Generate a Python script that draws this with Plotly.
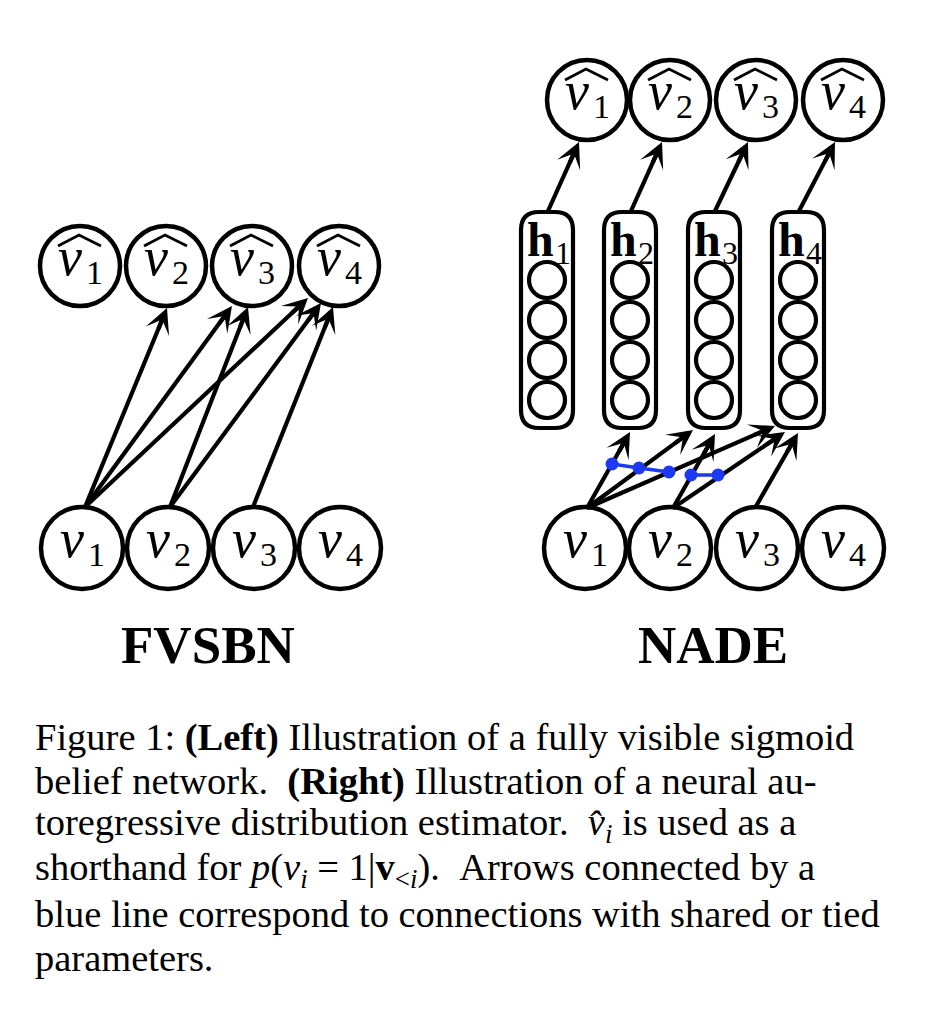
import plotly.graph_objects as go

# node positions (reference pixel coordinates, y grows downwards)
node_labels = ["1", "2", "3", "4"]

fvsbn_in_x = [82, 168, 254, 340]
fvsbn_in_y = 548
fvsbn_out_x = [80, 166, 252, 339]
fvsbn_out_y = 266
fvsbn_src_x = [85, 85, 85, 170, 170, 253]
fvsbn_src_y = [507, 507, 507, 507, 507, 507]
fvsbn_tip_x = [167, 232, 308, 248, 321, 333]
fvsbn_tip_y = [308, 306, 298, 307, 303, 307]

nade_in_x = [585, 670, 757, 843]
nade_in_y = 548
nade_out_x = [587, 670, 756, 843]
nade_out_y = 100
hidden_x = [547, 630, 714, 798]
hidden_top = 212
hidden_bottom = 428
unit_y = [280, 320, 360, 400]
nade_src_x = [587, 587, 587, 673, 673, 755]
nade_src_y = [508, 508, 508, 508, 508, 508]
nade_tip_x = [630, 693, 775, 715, 785, 798]
nade_tip_y = [432, 430, 426, 434, 432, 433]

tied_a_x = [612, 639, 669]
tied_a_y = [464, 468, 472]
tied_b_x = [691, 718]
tied_b_y = [475, 475]

titles = ["FVSBN", "NADE"]
title_x = [208, 713]
title_y = 645

caption_lines = [
    "Figure 1: <b>(Left)</b> Illustration of a fully visible sigmoid",
    "belief network.\u00a0\u00a0<b>(Right)</b> Illustration of a neural au-",
    "toregressive distribution estimator.\u00a0\u00a0<i>v\u0302<sub>i</sub></i> is used as a",
    "shorthand for <i>p</i>(<i>v<sub>i</sub></i> = 1|<b>v</b><sub>&lt;<i>i</i></sub>).\u00a0\u00a0Arrows connected by a",
    "blue line correspond to connections with shared or tied",
    "parameters.",
]
caption_baseline = [750, 794, 838, 883, 927, 971]

SERIF = "Liberation Serif"
BLUE = "#1b3af2"

fig = go.Figure()


def big_node(cx, cy, r, label, hat):
    fig.add_shape(type="circle", x0=cx - r, x1=cx + r, y0=cy - r, y1=cy + r,
                  line=dict(color="black", width=4.5))
    fig.add_annotation(x=cx - 10, y=cy - 9, text="<i>v</i>", showarrow=False,
                       font=dict(family=SERIF, size=54, color="black"))
    fig.add_annotation(x=cx + 14, y=cy + 6, text=label, showarrow=False,
                       font=dict(family=SERIF, size=34, color="black"))
    if hat:
        fig.add_shape(type="path",
                      path=f"M{cx - 22},{cy - 20} L{cx - 1},{cy - 31} L{cx + 21},{cy - 20}",
                      line=dict(color="black", width=2.8))


def arrow(x0, y0, x1, y1):
    dx, dy = x1 - x0, y1 - y0
    length = (dx * dx + dy * dy) ** 0.5
    ux, uy = dx / length, dy / length
    fig.add_shape(type="line", x0=x0, y0=y0, x1=x1 - 10 * ux, y1=y1 - 10 * uy,
                  line=dict(color="black", width=4.2))
    fig.add_annotation(x=x1, y=y1, ax=x1 - 24 * ux, ay=y1 - 24 * uy,
                       xref="x", yref="y", axref="x", ayref="y",
                       text="", showarrow=True, arrowhead=3, arrowsize=1.0,
                       arrowwidth=4.2, arrowcolor="black")


def rounded_box(cx, top, bottom, half_w=26, r=18):
    x0, x1 = cx - half_w, cx + half_w
    path = (f"M{x0 + r},{top} L{x1 - r},{top} Q{x1},{top} {x1},{top + r} "
            f"L{x1},{bottom - r} Q{x1},{bottom} {x1 - r},{bottom} "
            f"L{x0 + r},{bottom} Q{x0},{bottom} {x0},{bottom - r} "
            f"L{x0},{top + r} Q{x0},{top} {x0 + r},{top} Z")
    fig.add_shape(type="path", path=path, line=dict(color="black", width=4.2))


# FVSBN
for x, lab in zip(fvsbn_in_x, node_labels):
    big_node(x, fvsbn_in_y, 41, lab, False)
for x, lab in zip(fvsbn_out_x, node_labels):
    big_node(x, fvsbn_out_y, 40, lab, True)
for x0, y0, x1, y1 in zip(fvsbn_src_x, fvsbn_src_y, fvsbn_tip_x, fvsbn_tip_y):
    arrow(x0, y0, x1, y1)

# NADE
for x, lab in zip(nade_in_x, node_labels):
    big_node(x, nade_in_y, 41, lab, False)
for x, lab in zip(nade_out_x, node_labels):
    big_node(x, nade_out_y, 40, lab, True)
for bx, ox, lab in zip(hidden_x, nade_out_x, node_labels):
    rounded_box(bx, hidden_top, hidden_bottom)
    for uy in unit_y:
        fig.add_shape(type="circle", x0=bx - 18, x1=bx + 18, y0=uy - 18, y1=uy + 18,
                      line=dict(color="black", width=4.2))
    fig.add_annotation(x=bx - 7, y=239, text="<b>h</b>", showarrow=False,
                       font=dict(family=SERIF, size=48, color="black"))
    fig.add_annotation(x=bx + 16, y=253, text=lab, showarrow=False,
                       font=dict(family=SERIF, size=32, color="black"))
    arrow(bx + 1, hidden_top - 1, ox - 8, nade_out_y + 42)
for x0, y0, x1, y1 in zip(nade_src_x, nade_src_y, nade_tip_x, nade_tip_y):
    arrow(x0, y0, x1, y1)

# tied weights
for xs, ys in [(tied_a_x, tied_a_y), (tied_b_x, tied_b_y)]:
    for i in range(len(xs) - 1):
        fig.add_shape(type="line", x0=xs[i], y0=ys[i], x1=xs[i + 1], y1=ys[i + 1],
                      line=dict(color=BLUE, width=3.5))
    for x, y in zip(xs, ys):
        fig.add_shape(type="circle", x0=x - 6.5, x1=x + 6.5, y0=y - 6.5, y1=y + 6.5,
                      line=dict(width=0), fillcolor=BLUE)

# titles and caption
for t, x in zip(titles, title_x):
    fig.add_annotation(x=x, y=title_y, text=f"<b>{t}</b>", showarrow=False,
                       font=dict(family=SERIF, size=53, color="black"))
for line, base in zip(caption_lines, caption_baseline):
    fig.add_annotation(x=33, y=base - 13, text=line, showarrow=False,
                       xanchor="left", yanchor="middle",
                       font=dict(family=SERIF, size=38.5, color="black"))

fig.update_xaxes(range=[8, 930], visible=False, fixedrange=True)
fig.update_yaxes(range=[1004, 8], visible=False, fixedrange=True)
fig.update_layout(
    width=922,
    height=996,
    margin=dict(l=0, r=0, t=0, b=0),
    plot_bgcolor="white",
    paper_bgcolor="white",
    showlegend=False,
)
fig.write_html("out.html")
